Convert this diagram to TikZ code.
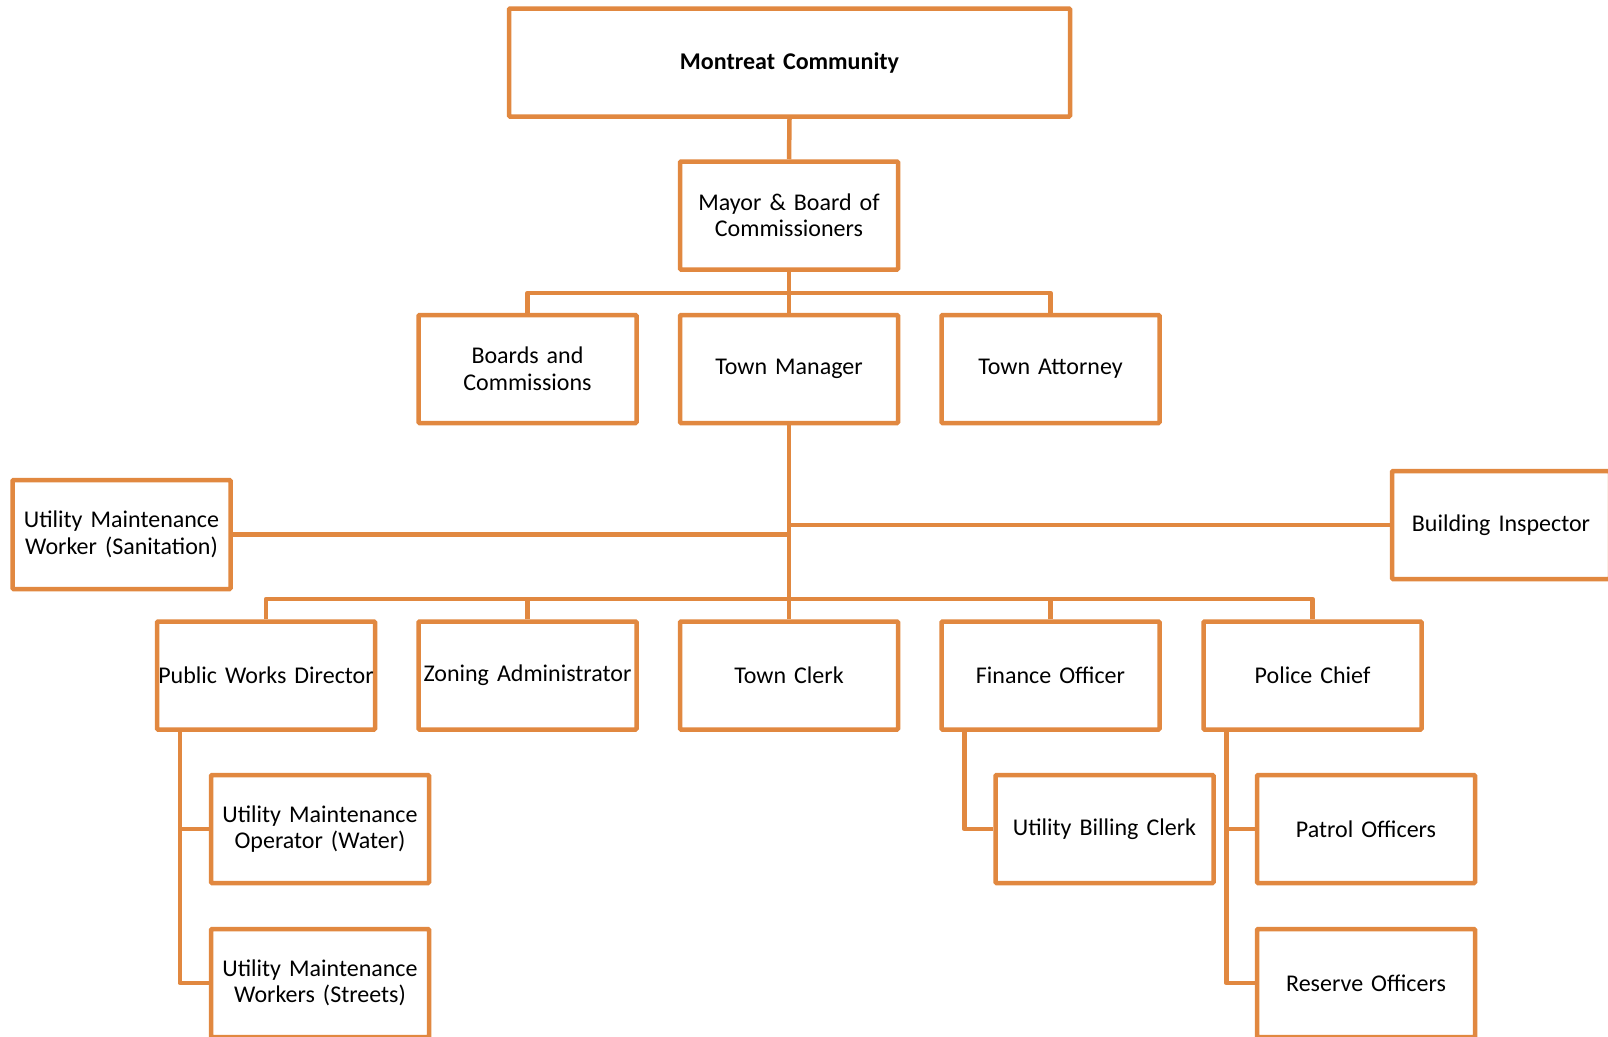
\documentclass[tikz,border=0pt]{standalone}
\usepackage{fontspec}
\setmainfont{Carlito}
\definecolor{org}{RGB}{225,136,64}
\begin{document}
\begin{tikzpicture}[x=1pt,y=-1pt,
  box/.style={draw=org,line width=4.5pt,rounded corners=1pt,fill=white,
    minimum width=218pt,minimum height=108pt,inner sep=0pt,text width=216pt,
    align=center,font=\fontsize{24}{26.5}\selectfont},
  conn/.style={draw=org,line width=4.5pt,line join=round}]
\clip (0,0) rectangle (1608,1036);
\fill[white] (0,0) rectangle (1608,1036);
\coordinate (b1) at (789,293);
\coordinate (b2) at (789,599);
\node[box,minimum width=561pt,text width=555pt,font=\fontsize{24}{26.5}\selectfont\bfseries] (mc) at (789.5,62.5) {Montreat Community};
\node[box] (mayor) at (789,215.5) {Mayor \& Board of\\Commissioners};
\node[box] (boards) at (527.5,369) {Boards and\\Commissions};
\node[box] (tm) at (789,369) {Town Manager\vphantom{A}};
\node[box] (atty) at (1050.5,369) {Town Attorney};
\node[box,minimum height=109pt] (san) at (121.5,534.5) {Utility Maintenance\\Worker (Sanitation)};
\node[box] (bi) at (1501,525) {Building Inspector};
\node[box] (pw) at (266,675.5) {Public Works Director};
\node[box] (zon) at (527.5,675.5) {Zoning Administrator};
\node[box] (clerk) at (789,675.5) {Town Clerk};
\node[box] (fin) at (1050.5,675.5) {Finance Officer};
\node[box] (pol) at (1312.5,675.5) {Police Chief};
\node[box] (op) at (320,829) {Utility Maintenance\\Operator (Water)};
\node[box] (str) at (320,983) {Utility Maintenance\\Workers (Streets)};
\node[box] (bill) at (1104.5,829) {Utility Billing Clerk};
\node[box] (patrol) at (1366,829) {Patrol Officers};
\node[box] (reserve) at (1366,983) {Reserve Officers};
\draw[conn] (mc.south) -- (mayor.north);
\draw[conn] (mayor.south) -- (tm.north);
\draw[conn] (boards.north) |- (b1) -| (atty.north);
\draw[conn] (tm.south) -- (clerk.north);
\draw[conn] (san.east) -- (san.east -| tm.south);
\draw[conn] (bi.west) -- (bi.west -| tm.south);
\draw[conn] (pw.north) |- (b2) -| (pol.north);
\draw[conn] (zon.north) -- (zon.north |- b2);
\draw[conn] (fin.north) -- (fin.north |- b2);
\draw[conn] ([xshift=25pt]pw.south west) |- (op.west);
\draw[conn] ([xshift=25pt]pw.south west) |- (str.west);
\draw[conn] ([xshift=25pt]fin.south west) |- (bill.west);
\draw[conn] ([xshift=25pt]pol.south west) |- (patrol.west);
\draw[conn] ([xshift=25pt]pol.south west) |- (reserve.west);
\end{tikzpicture}
\end{document}
